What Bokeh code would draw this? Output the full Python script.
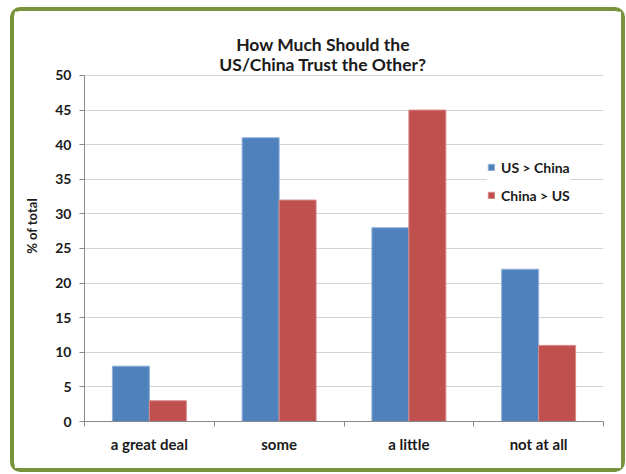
from bokeh.plotting import figure
from bokeh.models import Range1d, FixedTicker, Label, Legend, LegendItem, ColumnDataSource
from bokeh.transform import dodge
from bokeh.embed import file_html
from bokeh.resources import INLINE

categories = ["a great deal", "some", "a little", "not at all"]
us_china = [8, 41, 28, 22]
china_us = [3, 32, 45, 11]
y_ticks = [0, 5, 10, 15, 20, 25, 30, 35, 40, 45, 50]
title_lines = ["How Much Should the", "US/China Trust the Other?"]
series_names = ["US > China", "China > US"]

BLUE = "#4F81BD"
RED = "#C0504D"
FONT = "Lato"
TXT = "#1a1a1a"
YMAX = 50

pos = [i + 0.5 for i in range(len(categories))]
src = ColumnDataSource(dict(x=pos, us=us_china, cn=china_us))

p = figure(width=615, height=465, output_backend="svg", toolbar_location=None,
           x_range=Range1d(0, len(categories)), y_range=Range1d(0, 56.5),
           min_border_left=70, min_border_right=26, min_border_top=19, min_border_bottom=55)
p.outline_line_color = None
p.background_fill_color = "white"
p.border_fill_color = "white"
p.styles = {"border": "4px solid #77943C", "border-radius": "10px",
            "margin": "7px 0 0 10px"}

w = 0.285
r1 = p.vbar(x=dodge("x", -w / 2, range=p.x_range), top="us", width=w, source=src,
            fill_color=BLUE, line_color="#8FB0DA", line_width=1)
r2 = p.vbar(x=dodge("x", w / 2, range=p.x_range), top="cn", width=w, source=src,
            fill_color=RED, line_color="#D88A88", line_width=1)

# x axis: labels at category centres, ticks at boundaries
xa = p.xaxis[0]
xa.ticker = FixedTicker(ticks=pos, minor_ticks=list(range(len(categories) + 1)))
xa.major_label_overrides = {v: c for v, c in zip(pos, categories)}
xa.major_tick_out = 0
xa.major_tick_in = 0
xa.minor_tick_out = 5
xa.minor_tick_in = 0
xa.minor_tick_line_color = "#898989"
xa.axis_line_color = "#898989"
xa.major_label_text_font = FONT
xa.major_label_text_font_style = "bold"
xa.major_label_text_font_size = "15px"
xa.major_label_text_color = TXT
xa.major_label_standoff = 8
p.xgrid.visible = False

ya = p.yaxis[0]
ya.ticker = FixedTicker(ticks=y_ticks)
ya.bounds = (0, YMAX)
ya.minor_tick_line_color = None
ya.major_tick_out = 5
ya.major_tick_in = 0
ya.major_tick_line_color = "#898989"
ya.axis_line_color = "#898989"
ya.major_label_text_font = FONT
ya.major_label_text_font_style = "bold"
ya.major_label_text_font_size = "14px"
ya.major_label_text_color = TXT
ya.major_label_standoff = 8
ya.axis_label = "% of total"
ya.axis_label_text_font = FONT
ya.axis_label_text_font_style = "bold"
ya.axis_label_text_font_size = "13px"
ya.axis_label_text_color = TXT
ya.axis_label_standoff = 12
p.ygrid.grid_line_color = "#D4D4D4"
p.ygrid.grid_line_width = 1

# title
t1 = Label(x=len(categories) / 2, y=YMAX, text=title_lines[0], x_offset=-21, y_offset=31,
           text_align="center", text_baseline="middle", text_font=FONT,
           text_font_style="bold", text_font_size="17.5px", text_color=TXT)
t2 = Label(x=len(categories) / 2, y=YMAX, text=title_lines[1], x_offset=-21, y_offset=11,
           text_align="center", text_baseline="middle", text_font=FONT,
           text_font_style="bold", text_font_size="17.5px", text_color=TXT,
           background_fill_color="white")
p.add_layout(t1)
p.add_layout(t2)

legend = Legend(items=[LegendItem(label=series_names[0], renderers=[r1]),
                       LegendItem(label=series_names[1], renderers=[r2])],
                location=(403, 217), orientation="vertical")
legend.border_line_color = None
legend.background_fill_color = "white"
legend.background_fill_alpha = 1
legend.label_text_font = FONT
legend.label_text_font_style = "bold"
legend.label_text_font_size = "14px"
legend.label_text_color = TXT
legend.glyph_width = 8
legend.glyph_height = 8
legend.label_height = 18
legend.label_standoff = 6
legend.spacing = 10
legend.padding = 6
legend.margin = 0
p.add_layout(legend, "center")

open("out.html", "w").write(file_html(p, INLINE))
